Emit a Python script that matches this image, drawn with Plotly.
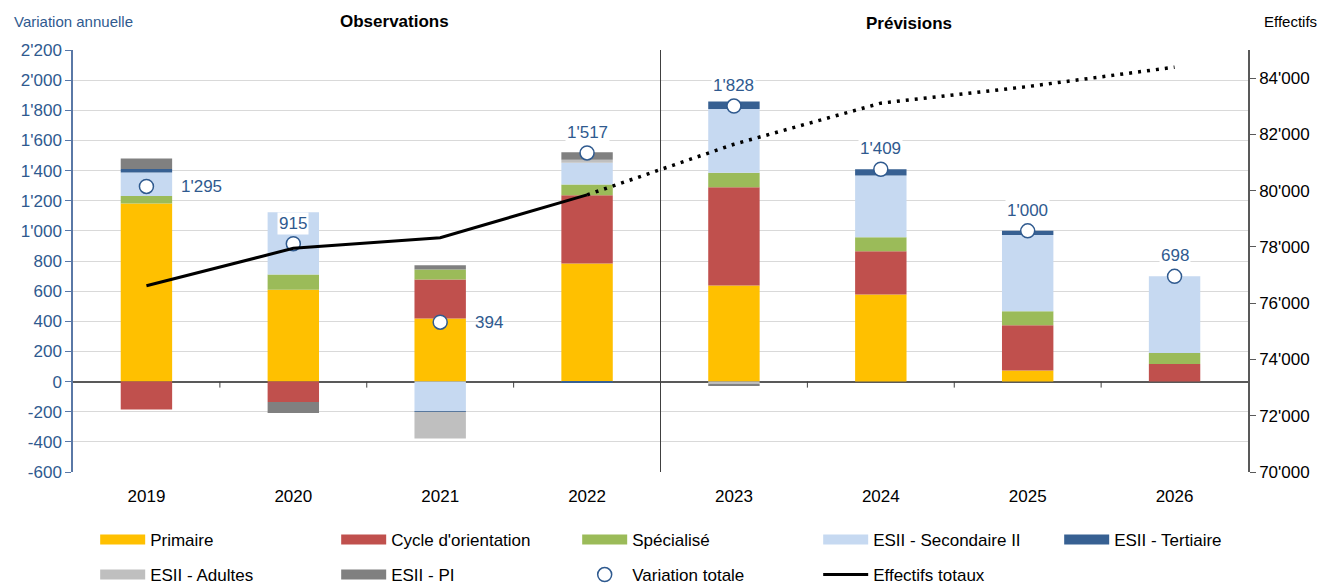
import plotly.graph_objects as go

# --- data ---
years = ['2019', '2020', '2021', '2022', '2023', '2024', '2025', '2026']

primaire = [1182, 610, 418, 783, 637, 577, 73, 0]
cycle_orientation = [-185, -135, 259, 453, 652, 288, 301, 117]
specialise = [50, 100, 66, 71, 96, 93, 93, 73]
secondaire_ii = [155, 413, -198, 145, 424, 409, 506, 508]
tertiaire = [23, 0, -3, -5, 49, 42, 27, 0]
adultes = [0, 0, -177, 20, -15, 0, 0, 0]
esii_pi = [70, -73, 29, 50, -15, 0, 0, 0]

variation_totale = [1295, 915, 394, 1517, 1828, 1409, 1000, 698]
label_side = ['right', 'top', 'right', 'top', 'top', 'top', 'top', 'top']

effectifs_totaux = [76620, 77950, 78330, 79850, 81650, 83110, 83700, 84390]
last_observed = 3  # index of 2022, last observed year

left_ticks = list(range(-600, 2201, 200))
right_ticks = list(range(70000, 84001, 2000))

FONT = 'Liberation Sans, Arial, sans-serif'
BLUE_TEXT = '#2F5A8F'
N = len(years)


def fmt(v):
    return f'{v:,}'.replace(',', "'")


series = [
    ('Primaire', primaire, '#FFC000', 'legend', 1),
    ("Cycle d'orientation", cycle_orientation, '#C0504D', 'legend', 2),
    ('Spécialisé', specialise, '#9BBB59', 'legend', 3),
    ('ESII - Secondaire II', secondaire_ii, '#C6D9F1', 'legend', 4),
    ('ESII - Tertiaire', tertiaire, '#376092', 'legend', 5),
    ('ESII - Adultes', adultes, '#BFBFBF', 'legend2', 1),
    ('ESII - PI', esii_pi, '#808080', 'legend2', 2),
]

fig = go.Figure()

for name, values, color, legend, rank in series:
    fig.add_trace(
        go.Bar(
            x=years,
            y=values,
            name=name,
            marker_color=color,
            marker_line_width=0,
            showlegend=False,
        )
    )
    # wide flat legend swatch
    fig.add_trace(
        go.Scatter(
            x=[None],
            y=[None],
            mode='lines',
            name=name,
            line=dict(color=color, width=10),
            legend=legend,
            legendrank=rank,
            legendwidth=114 if rank == 5 else None,
        )
    )

fig.add_trace(
    go.Scatter(
        x=years[: last_observed + 1],
        y=effectifs_totaux[: last_observed + 1],
        mode='lines',
        name='Effectifs totaux',
        line=dict(color='black', width=3),
        yaxis='y2',
        legend='legend2',
        legendrank=4,
    )
)
fig.add_trace(
    go.Scatter(
        x=years[last_observed:],
        y=effectifs_totaux[last_observed:],
        mode='lines',
        name='Effectifs totaux (prévisions)',
        line=dict(color='black', width=3.5, dash='3px,6px'),
        yaxis='y2',
        showlegend=False,
    )
)
fig.add_trace(
    go.Scatter(
        x=years,
        y=variation_totale,
        mode='markers',
        name='Variation totale',
        marker=dict(symbol='circle', size=14, color='white', line=dict(color=BLUE_TEXT, width=1.5)),
        legend='legend2',
        legendrank=3,
    )
)

# value labels (category axis: x given as category index)
for i, (val, side) in enumerate(zip(variation_totale, label_side)):
    if side == 'right':
        fig.add_annotation(x=i, y=val, text=fmt(val), showarrow=False, xanchor='left', xshift=33,
                           font=dict(size=17, color=BLUE_TEXT, family=FONT))
    else:
        fig.add_annotation(x=i, y=val, text=fmt(val), showarrow=False, yanchor='bottom', yshift=9,
                           bgcolor='white', font=dict(size=17, color=BLUE_TEXT, family=FONT))

# separator between observations and forecasts
fig.add_shape(type='line', xref='paper', yref='paper', x0=(last_observed + 1) / N, x1=(last_observed + 1) / N,
              y0=0, y1=1, line=dict(color='#404040', width=1))
# category tick marks on the zero line
for i in range(1, N):
    fig.add_shape(type='line', xref='paper', yref='y', x0=i / N, x1=i / N, y0=0, y1=-40,
                  line=dict(color='#404040', width=1))

fig.add_annotation(xref='paper', yref='paper', x=(338 - 73) / 1175, y=1, yshift=29, yanchor='middle',
                   text='<b>Observations</b>', showarrow=False, font=dict(size=17, color='black', family=FONT))
fig.add_annotation(xref='paper', yref='paper', x=(954 - 73) / 1175, y=1, yshift=27, yanchor='middle',
                   text='<b>Prévisions</b>', showarrow=False, font=dict(size=17, color='black', family=FONT))
fig.add_annotation(xref='paper', yref='paper', x=(12 - 73) / 1175, xanchor='left', y=1, yshift=29,
                   yanchor='middle', text='Variation annuelle', showarrow=False,
                   font=dict(size=15, color=BLUE_TEXT, family=FONT))
fig.add_annotation(xref='paper', yref='paper', x=(1319 - 73) / 1175, xanchor='right', y=1, yshift=29,
                   yanchor='middle', text='Effectifs', showarrow=False,
                   font=dict(size=15, color='black', family=FONT))

legend_common = dict(
    orientation='h',
    xref='container',
    yref='container',
    xanchor='left',
    yanchor='top',
    entrywidth=181,
    entrywidthmode='pixels',
    itemwidth=45,
    font=dict(size=17, color='black', family=FONT),
    bgcolor='rgba(0,0,0,0)',
    traceorder='normal',
)

fig.update_layout(
    width=1322,
    height=585,
    barmode='relative',
    bargap=0.65,
    plot_bgcolor='white',
    paper_bgcolor='white',
    font=dict(family=FONT, size=17, color='black'),
    margin=dict(l=73, r=74, t=50, b=113),
    xaxis=dict(
        type='category',
        range=[-0.5, N - 0.5],
        showline=False,
        ticks='',
        ticklabelstandoff=12,
        tickfont=dict(size=17, color='black'),
        showgrid=False,
    ),
    yaxis=dict(
        range=[-600, 2200],
        tickvals=left_ticks,
        ticktext=[fmt(v) for v in left_ticks],
        tickfont=dict(size=17, color=BLUE_TEXT),
        showgrid=True,
        gridcolor='#D9D9D9',
        showline=True,
        linecolor='#5A78A6',
        linewidth=1.5,
        ticks='outside',
        ticklen=6,
        tickcolor='#5A78A6',
        zeroline=True,
        zerolinecolor='#595959',
        zerolinewidth=2,
    ),
    yaxis2=dict(
        overlaying='y',
        side='right',
        range=[70000, 85000],
        tickvals=right_ticks,
        ticktext=[fmt(v) for v in right_ticks],
        tickfont=dict(size=17, color='black'),
        showgrid=False,
        zeroline=False,
        showline=True,
        linecolor='#595959',
        linewidth=1.5,
        ticks='outside',
        ticklen=6,
        tickcolor='#595959',
    ),
    legend=dict(legend_common, x=0.072, y=1 - 522 / 585),
    legend2=dict(legend_common, x=0.072, y=1 - 557 / 585),
    hovermode='x',
)

fig.write_html(
    'out.html',
    config={'displayModeBar': False},
    post_script="document.body.style.margin='0';document.body.style.overflow='hidden';",
)
